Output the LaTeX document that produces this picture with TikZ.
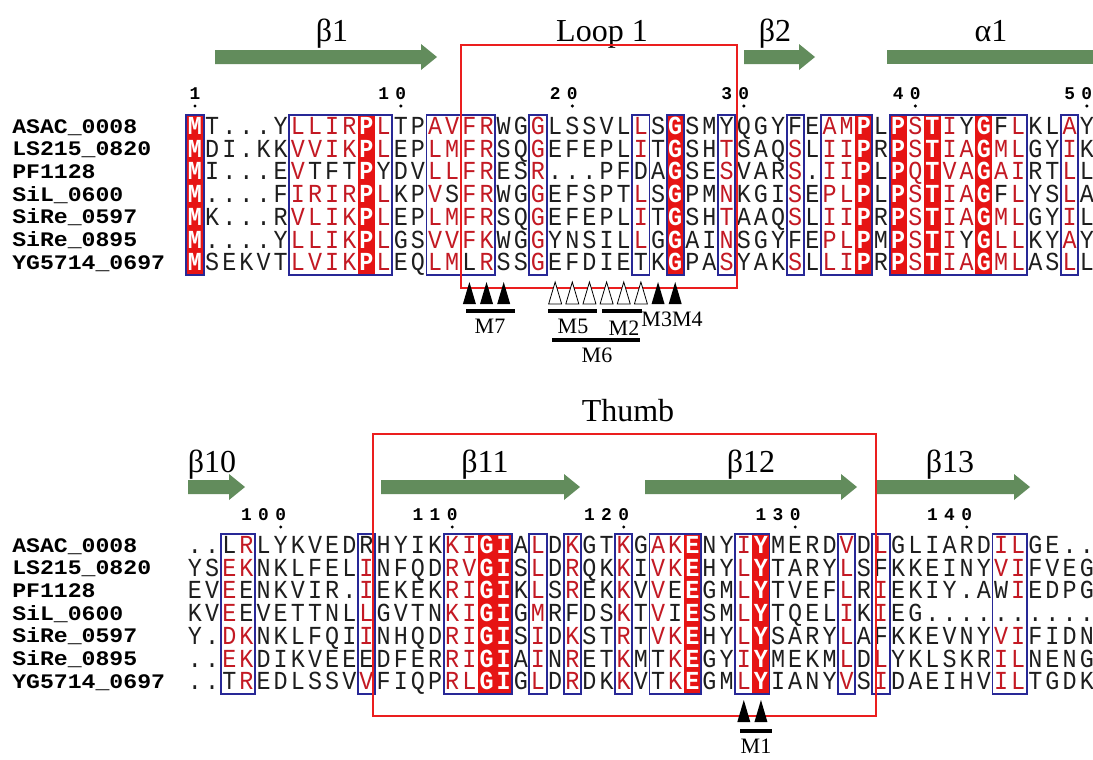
\documentclass[tikz,border=0pt]{standalone}
\usepackage{fontspec}
\setmainfont{Liberation Serif}
\newfontfamily\seqf[FakeStretch=0.9]{Liberation Mono}
\newfontfamily\numf{Liberation Mono}
\newfontfamily\namef[FakeStretch=1.12]{Liberation Mono}
\definecolor{boxblue}{RGB}{40,40,150}
\definecolor{fillred}{RGB}{230,20,20}
\definecolor{ck}{RGB}{30,30,30}
\definecolor{cr}{RGB}{195,25,35}
\definecolor{cw}{RGB}{255,255,255}
\definecolor{strand}{RGB}{98,140,92}
\definecolor{loopred}{RGB}{235,30,30}
\def\fk{\seqf\fontsize{19.5}{20}\selectfont}
\def\fr{\seqf\fontsize{19.5}{20}\selectfont}
\def\fw{\seqf\bfseries\fontsize{19.5}{20}\selectfont}
\def\colx#1{195+(#1-1)*17.15}
\newcount\colno
% column classes
\foreach \c in {7,8,9,10,12,15,16,17,18,21,27,32,36,38,39,43,45,46,48,49,52}{\expandafter\gdef\csname c1:\c\endcsname{r}}
\foreach \c in {1,11,29,40,42,44,47}{\expandafter\gdef\csname c1:\c\endcsname{w}}
\foreach \c in {3,4,11,16,17,21,23,26,28,29,33,39,41,48,49}{\expandafter\gdef\csname c2:\c\endcsname{r}}
\foreach \c in {18,19,30,34}{\expandafter\gdef\csname c2:\c\endcsname{w}}
% exceptions (black inside boxes)
\foreach \e in {3:8,3:9,3:10,3:12,4:16,7:17,3:27,7:27,1:32,1:36,6:36,1:46,6:46,1:48,4:48}{\expandafter\gdef\csname x1:\e\endcsname{k}}
\foreach \e in {1:3,3:4,4:4,7:3,1:11,6:11,4:23,3:29,4:29,6:28,7:28,2:41,5:41,3:48}{\expandafter\gdef\csname x2:\e\endcsname{k}}
\def\placeres#1{%
  \global\advance\colno by 1
  \def\code{k}%
  \ifcsname c\blk:\the\colno\endcsname \edef\code{\csname c\blk:\the\colno\endcsname}\fi
  \ifcsname x\blk:\rowno:\the\colno\endcsname \def\code{k}\fi
  \ifx#1.\def\code{k}\fi
  \node[res, text=c\code, font=\csname f\code\endcsname, name=r\blk-\rowno-\the\colno] at ({\colx{\the\colno}},\rowy) {#1};%
}
\def\putseq#1{\ifx#1\relax\else\placeres{#1}\expandafter\putseq\fi}
\def\putrow#1#2#3#4{\def\blk{#1}\def\rowno{#2}\def\rowy{#3}\global\colno=0 \putseq#4\relax}
\newcommand\digit[3]{\node[numlab] (d#1-#2) at ({\colx{#2}},#1) {#3};}
\newcommand\posdot[2]{\fill ({\colx{#2}},#1) circle (1.7);}
\newcommand\redcol[4]{\fill[fillred] ({\colx{#1}-8.575},#3) rectangle ({\colx{#2}+8.575},#4);}
\newcommand\bluebox[4]{\draw[boxline] ({\colx{#1}-8.575},#3) rectangle ({\colx{#2}+8.575},#4);}
\newcommand\strandshape[3]{\fill[strand] (#1,#3-7) -- (#2-16,#3-7) -- (#2-16,#3-13) -- (#2,#3) -- (#2-16,#3+13) -- (#2-16,#3+7) -- (#1,#3+7) -- cycle;}
\newcommand\filltri[2]{\fill[black] ({\colx{#1}-6.5},#2) -- ({\colx{#1}+6.5},#2) -- ({\colx{#1}},#2-22) -- cycle;}
\newcommand\opentri[2]{\draw[black, line width=0.6pt, fill=white] ({\colx{#1}-6.5},#2) -- ({\colx{#1}+6.5},#2) -- ({\colx{#1}},#2-22) -- cycle;}
\tikzset{
 res/.style={inner sep=0pt, anchor=base},
 seqname/.style={inner sep=0pt, anchor=base west, font=\namef\bfseries\fontsize{15.5}{16}\selectfont, text=black},
 numlab/.style={inner sep=0pt, anchor=base, font=\numf\bfseries\fontsize{13.4}{14}\selectfont},
 boxline/.style={draw=boxblue, line width=1.4pt},
 sslabel/.style={inner sep=0pt, anchor=base, font=\fontsize{24}{25}\selectfont},
 mlabel/.style={inner sep=0pt, font=\fontsize{16.5}{17}\selectfont},
 regionbox/.style={draw=loopred, line width=1.9pt},
 mbar/.style={line width=2.5pt, black},
}
\begin{document}
\begin{tikzpicture}[x=0.75pt,y=-0.75pt]
\useasboundingbox (0,0) rectangle (1093,760);
\fill[white] (0,0) rectangle (1093,760);
% ---------- block 1 ----------
\redcol{1}{1}{115}{275}\redcol{11}{11}{115}{275}\redcol{29}{29}{115}{275}
\redcol{40}{40}{115}{275}\redcol{42}{42}{115}{275}\redcol{44}{44}{115}{275}\redcol{47}{47}{115}{275}
\bluebox{1}{1}{115}{275}\bluebox{7}{12}{115}{275}\bluebox{15}{18}{115}{275}
\bluebox{21}{21}{115}{275}\bluebox{27}{27}{115}{275}\bluebox{29}{29}{115}{275}
\bluebox{32}{32}{115}{275}\bluebox{36}{36}{115}{275}\bluebox{38}{40}{115}{275}
\bluebox{42}{49}{115}{275}\bluebox{52}{52}{115}{275}
\putrow{1}{1}{134.5}{MT...YLLIRPLTPAVFRWGGLSSVLLSGSMYQGYFEAMPLPSTIYGFLKLAY}
\putrow{1}{2}{157.2}{MDI.KKVVIKPLEPLMFRSQGEFEPLITGSHTSAQSLIIPRPSTIAGMLGYIK}
\putrow{1}{3}{179.9}{MI...EVTFTPYDVLLFRESR...PFDAGSESVARS.IIPLPQTVAGAIRTLL}
\putrow{1}{4}{202.6}{M....FIRIRPLKPVSFRWGGEFSPTLSGPMNKGISEPLPLPSTIAGFLYSLA}
\putrow{1}{5}{225.3}{MK...RVLIKPLEPLMFRSQGEFEPLITGSHTAAQSLIIPRPSTIAGMLGYIL}
\putrow{1}{6}{248.0}{M....YLLIKPLGSVVFKWGGYNSILLGGAINSGYFEPLPMPSTIYGLLKYAY}
\putrow{1}{7}{270.7}{MSEKVTLVIKPLEQLMLRSSGEFDIETKGPASYAKSLLIPRPSTIAGMLASLL}
\node[seqname] (n1a) at (12,133) {ASAC\_0008};
\node[seqname] (n1b) at (12,155.7) {LS215\_0820};
\node[seqname] (n1c) at (12,178.4) {PF1128};
\node[seqname] (n1d) at (12,201.1) {SiL\_0600};
\node[seqname] (n1e) at (12,223.8) {SiRe\_0597};
\node[seqname] (n1f) at (12,246.5) {SiRe\_0895};
\node[seqname] (n1g) at (12,269.2) {YG5714\_0697};
\digit{99}{1}{1}\posdot{106}{1}
\digit{99}{12}{1}\digit{99}{13}{0}\posdot{106}{13}
\digit{99}{22}{2}\digit{99}{23}{0}\posdot{106}{23}
\digit{99}{32}{3}\digit{99}{33}{0}\posdot{106}{33}
\digit{99}{42}{4}\digit{99}{43}{0}\posdot{106}{43}
\digit{99}{52}{5}\digit{99}{53}{0}\posdot{106}{53}
\strandshape{215}{437}{57}
\strandshape{744}{815}{57}
\fill[strand] (887,50) rectangle (1093,64);
\node[sslabel] (s1) at (332,41) {β1};
\node[sslabel] (loop) at (602,41) {Loop 1};
\node[sslabel] (s2) at (775,41) {β2};
\node[sslabel] (a1) at (991,41) {α1};
\draw[regionbox] (461,45) rectangle (737,288);
% markers block 1
\filltri{17}{304}\filltri{18}{304}\filltri{19}{304}
\opentri{22}{304}\opentri{23}{304}\opentri{24}{304}\opentri{25}{304}\opentri{26}{304}\opentri{27}{304}
\filltri{28}{304}\filltri{29}{304}
\coordinate (m7a) at (466,311); \coordinate (m7b) at (515,311);
\coordinate (m5a) at (548,311); \coordinate (m5b) at (597,311);
\coordinate (m2a) at (602,311); \coordinate (m2b) at (642,311);
\coordinate (m6a) at (552,340); \coordinate (m6b) at (640,340);
\draw[mbar] (m7a) -- (m7b);
\draw[mbar] (m5a) -- (m5b);
\draw[mbar] (m2a) -- (m2b);
\draw[mbar] (m6a) -- (m6b);
\node[mlabel] (M7) at (490,326) {M7};
\node[mlabel] (M5) at (573,326) {M5};
\node[mlabel] (M2) at (624,328) {M2};
\node[mlabel] (M34) at (672,319) {M3M4};
\node[mlabel] (M6) at (597,355) {M6};
% ---------- block 2 ----------
\redcol{18}{19}{534}{694}\redcol{30}{30}{534}{694}\redcol{34}{34}{534}{694}
\bluebox{3}{4}{534}{694}\bluebox{11}{11}{534}{694}\bluebox{16}{19}{534}{694}
\bluebox{21}{21}{534}{694}\bluebox{23}{23}{534}{694}\bluebox{26}{26}{534}{694}
\bluebox{28}{30}{534}{694}\bluebox{33}{34}{534}{694}\bluebox{39}{39}{534}{694}
\bluebox{41}{41}{534}{694}\bluebox{48}{49}{534}{694}
\putrow{2}{1}{553.5}{..LRLYKVEDRHYIKKIGIALDKGTKGAKENYIYMERDVDLGLIARDILGE..}
\putrow{2}{2}{576.2}{YSEKNKLFELINFQDRVGISLDRQKKIVKEHYLYTARYLSFKKEINYVIFVEG}
\putrow{2}{3}{598.9}{EVEENKVIR.IEKEKRIGIKLSREKKVVEEGMLYTVEFLRIEKIY.AWIEDPG}
\putrow{2}{4}{621.6}{KVEEVETTNLLGVTNKIGIGMRFDSKTVIESMLYTQELIKIEG..........}
\putrow{2}{5}{644.3}{Y.DKNKLFQIINHQDRIGISIDKSTRTVKEHYLYSARYLAFKKEVNYVIFIDN}
\putrow{2}{6}{667.0}{..EKDIKVEEEDFERRIGIAINRETKMTKEGYIYMEKMLDLYKLSKRILNENG}
\putrow{2}{7}{689.7}{..TREDLSSVVFIQPRLGIGLDRDKKVTKEGMLYIANYVSIDAEIHVILTGDK}
\node[seqname] (n2a) at (12,552) {ASAC\_0008};
\node[seqname] (n2b) at (12,574.7) {LS215\_0820};
\node[seqname] (n2c) at (12,597.4) {PF1128};
\node[seqname] (n2d) at (12,620.1) {SiL\_0600};
\node[seqname] (n2e) at (12,642.8) {SiRe\_0597};
\node[seqname] (n2f) at (12,665.5) {SiRe\_0895};
\node[seqname] (n2g) at (12,688.2) {YG5714\_0697};
\digit{520}{4}{1}\digit{520}{5}{0}\digit{520}{6}{0}\posdot{527}{6}
\digit{520}{14}{1}\digit{520}{15}{1}\digit{520}{16}{0}\posdot{527}{16}
\digit{520}{24}{1}\digit{520}{25}{2}\digit{520}{26}{0}\posdot{527}{26}
\digit{520}{34}{1}\digit{520}{35}{3}\digit{520}{36}{0}\posdot{527}{36}
\digit{520}{44}{1}\digit{520}{45}{4}\digit{520}{46}{0}\posdot{527}{46}
\strandshape{188}{245}{487}
\strandshape{381}{580}{487}
\strandshape{645}{857}{487}
\strandshape{877}{1030}{487}
\node[sslabel] (s10) at (212,472) {β10};
\node[sslabel] (s11) at (485,472) {β11};
\node[sslabel] (s12) at (751,472) {β12};
\node[sslabel] (s13) at (950,472) {β13};
\node[sslabel] (thumb) at (628,421) {Thumb};
\draw[regionbox] (373,434) rectangle (876,716);
\filltri{33}{722}\filltri{34}{722}
\coordinate (m1a) at (740,731); \coordinate (m1b) at (772,731);
\draw[mbar] (m1a) -- (m1b);
\node[mlabel] (M1) at (756,746) {M1};
\end{tikzpicture}
\end{document}
